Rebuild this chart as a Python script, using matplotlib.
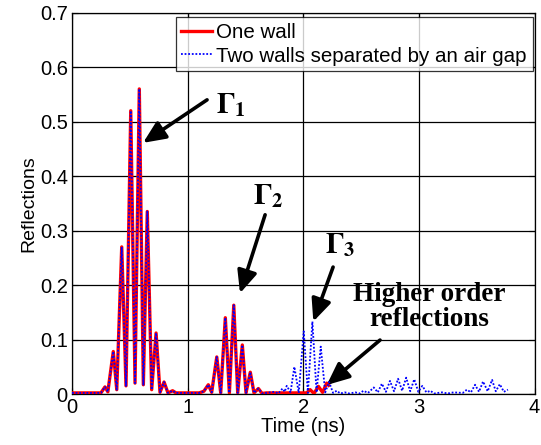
import numpy as np
import matplotlib
matplotlib.use("Agg")
import matplotlib.pyplot as plt

plt.rcParams['font.family'] = ['Liberation Sans', 'DejaVu Sans']
plt.rcParams['mathtext.fontset'] = 'stix'

# Reflection magnitude versus time, single wall
t_one = [0, 0.25, 0.285, 0.31, 0.357, 0.387, 0.430, 0.467, 0.508, 0.545, 0.582,
         0.617, 0.651, 0.689, 0.727, 0.761, 0.796, 0.83, 0.87, 0.90, 1.10, 1.14,
         1.179, 1.208, 1.252, 1.286, 1.326, 1.361, 1.399, 1.433, 1.473, 1.505,
         1.542, 1.574, 1.612, 1.644, 1.68, 2.03, 2.059, 2.093, 2.131, 2.167,
         2.203, 2.22]
r_one = [0.002, 0.002, 0.013, 0.004, 0.078, 0.008, 0.27, 0.015, 0.52, 0.02, 0.56,
         0.017, 0.335, 0.008, 0.112, 0.003, 0.022, 0.002, 0.006, 0.002, 0.002, 0.005,
         0.017, 0.003, 0.068, 0.002, 0.14, 0.002, 0.163, 0.002, 0.09, 0.002,
         0.04, 0.002, 0.01, 0.001, 0.002, 0.002, 0.008, 0.001, 0.014, 0.003,
         0.02, 0.016]

# Two walls with an air gap: identical to one wall up to ~1.68 ns, then later echoes
t_gap_tail = [1.75, 1.785, 1.82, 1.84, 1.857, 1.89, 1.923, 1.961, 2.004, 2.04,
              2.079, 2.115, 2.151, 2.19, 2.223, 2.258, 2.29, 2.32, 2.36, 2.40,
              2.45, 2.49, 2.52, 2.56, 2.61, 2.645, 2.68, 2.715, 2.75, 2.785,
              2.82, 2.855, 2.89, 2.925, 2.96, 2.995, 3.03, 3.065, 3.10, 3.13,
              3.20, 3.25, 3.30, 3.38, 3.415, 3.45, 3.486, 3.52, 3.555, 3.595,
              3.633, 3.665, 3.70, 3.735, 3.77]
r_gap_tail = [0.004, 0.001, 0.01, 0.004, 0.015, 0.003, 0.05, 0.002, 0.115, 0.002,
              0.133, 0.003, 0.087, 0.003, 0.022, 0.002, 0.006, 0.001, 0.003, 0.001,
              0.003, 0.001, 0.006, 0.002, 0.012, 0.003, 0.019, 0.004, 0.024, 0.005,
              0.028, 0.006, 0.03, 0.005, 0.027, 0.004, 0.015, 0.003, 0.006, 0.001,
              0.003, 0.001, 0.003, 0.002, 0.008, 0.003, 0.017, 0.004, 0.023, 0.005,
              0.026, 0.005, 0.018, 0.004, 0.008]

x_ticks = [0, 1, 2, 3, 4]
x_tick_labels = ['0', '1', '2', '3', '4']
y_ticks = [0, 0.1, 0.2, 0.3, 0.4, 0.5, 0.6, 0.7]
y_tick_labels = ['0', '0.1', '0.2', '0.3', '0.4', '0.5', '0.6', '0.7']

n_shared = sum(1 for t in t_one if t <= 1.68)
t_two = t_one[:n_shared] + t_gap_tail
r_two = r_one[:n_shared] + r_gap_tail

fig = plt.figure(figsize=(5.41, 4.45), dpi=100)
ax = fig.add_axes([0.1331, 0.1146, 0.8549, 0.8569])

ax.plot(t_one, r_one, color='red', lw=2.4, label='One wall', zorder=3,
        solid_joinstyle='round')
ax.plot(t_two, r_two, color='blue', lw=1.3, linestyle=(0, (1, 1)),
        label='Two walls separated by an air gap', zorder=4)

ax.set_xlim(0, 4)
ax.set_ylim(0, 0.7)
ax.set_xticks(x_ticks)
ax.set_xticklabels(x_tick_labels)
ax.set_yticks(y_ticks)
ax.set_yticklabels(y_tick_labels)
ax.tick_params(direction='in', length=4, labelsize=14.5, top=True, right=True,
               width=0.8, pad=3)
ax.grid(True, color='black', lw=0.9, ls='-')
ax.set_axisbelow(True)
for s in ax.spines.values():
    s.set_linewidth(0.9)

ax.set_xlabel('Time (ns)', fontsize=14.5, labelpad=0)
ax.set_ylabel('Reflections', fontsize=14, labelpad=2)

leg = ax.legend(loc='upper right', bbox_to_anchor=(0.996, 0.988), fontsize=14.8,
                frameon=True, fancybox=False, borderaxespad=0, handlelength=1.5,
                handletextpad=0.2, borderpad=0.28, labelspacing=0.22)
leg.get_frame().set_edgecolor('black')
leg.get_frame().set_linewidth(0.9)

arrow = dict(arrowstyle='-|>,head_length=0.9,head_width=0.4', lw=2.6,
             color='black', shrinkA=0, shrinkB=0, mutation_scale=15)
tkw = dict(fontweight='bold', family='Liberation Serif',
           ha='center', va='center')

ax.annotate('', xy=(0.614, 0.461), xytext=(1.168, 0.540), arrowprops=arrow)
ax.text(1.375, 0.530, r'$\mathbf{\Gamma}_\mathbf{1}$', fontsize=21, **tkw)

ax.annotate('', xy=(1.453, 0.185), xytext=(1.67, 0.329), arrowprops=arrow)
ax.text(1.70, 0.364, r'$\mathbf{\Gamma}_\mathbf{2}$', fontsize=21, **tkw)

ax.annotate('', xy=(2.087, 0.133), xytext=(2.258, 0.233), arrowprops=arrow)
ax.text(2.318, 0.274, r'$\mathbf{\Gamma}_\mathbf{3}$', fontsize=21, **tkw)

ax.annotate('', xy=(2.203, 0.0165), xytext=(2.664, 0.099), arrowprops=arrow)
ax.text(3.093, 0.160, 'Higher order\nreflections', fontsize=19.5,
        linespacing=1.0, **tkw)

fig.savefig('out.png', dpi=100)
